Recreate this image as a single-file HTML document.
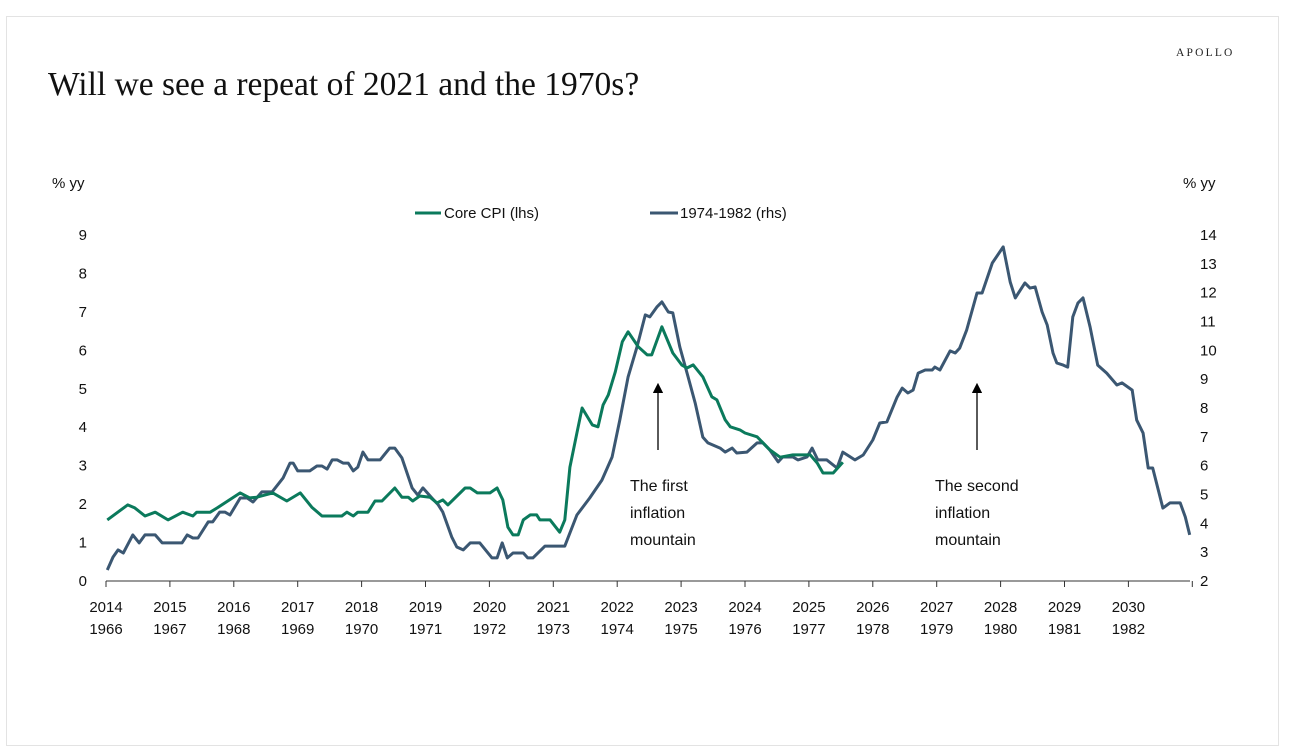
<!DOCTYPE html>
<html><head><meta charset="utf-8"><style>
body{margin:0;width:1300px;height:734px;background:#fff;overflow:hidden;font-family:"Liberation Sans",sans-serif;}
#frame{position:absolute;left:6px;top:16px;width:1273px;height:730px;border:1px solid #e3e3e3;box-sizing:border-box;}
#title{position:absolute;left:48px;top:66px;font-family:"Liberation Serif",serif;font-size:33.5px;color:#111;white-space:nowrap;}
#logo{position:absolute;left:1176px;top:47px;font-family:"Liberation Serif",serif;font-size:11.5px;letter-spacing:2.2px;color:#222;}
svg{position:absolute;left:0;top:0;}
text{font-family:"Liberation Sans",sans-serif;font-size:15px;fill:#111;}
</style></head><body>
<div id="frame"></div>
<div id="title">Will we see a repeat of 2021 and the 1970s?</div>
<div id="logo">APOLLO</div>
<svg id="chart" width="1300" height="734"></svg>
<script>
const coreDates=[2014.02,2014.34,2014.45,2014.61,2014.77,2014.97,2015.20,2015.36,2015.42,2015.63,2015.74,2016.10,2016.25,2016.36,2016.61,2016.83,2017.04,2017.22,2017.38,2017.69,2017.77,2017.87,2017.94,2018.10,2018.21,2018.32,2018.52,2018.63,2018.73,2018.80,2018.91,2019.07,2019.18,2019.27,2019.35,2019.62,2019.70,2019.81,2020.01,2020.12,2020.21,2020.29,2020.37,2020.45,2020.53,2020.64,2020.74,2020.79,2020.95,2021.10,2021.18,2021.26,2021.37,2021.45,2021.61,2021.70,2021.78,2021.86,2021.97,2022.08,2022.17,2022.33,2022.47,2022.54,2022.70,2022.87,2023.01,2023.09,2023.19,2023.34,2023.48,2023.56,2023.69,2023.77,2023.92,2024.00,2024.19,2024.39,2024.55,2024.75,2025.02,2025.13,2025.22,2025.38,2025.53];
const coreValues=[1.59,1.98,1.90,1.69,1.79,1.59,1.79,1.69,1.79,1.79,1.90,2.29,2.16,2.18,2.29,2.08,2.29,1.92,1.69,1.69,1.79,1.69,1.79,1.79,2.08,2.08,2.42,2.18,2.18,2.08,2.21,2.18,2.03,2.11,1.98,2.42,2.42,2.29,2.29,2.42,2.11,1.40,1.20,1.20,1.59,1.72,1.72,1.59,1.59,1.27,1.59,2.96,3.85,4.50,4.06,4.01,4.58,4.84,5.44,6.22,6.48,6.09,5.88,5.88,6.61,5.93,5.62,5.54,5.62,5.31,4.79,4.71,4.19,4.01,3.93,3.85,3.75,3.41,3.22,3.28,3.28,3.07,2.81,2.81,3.09];
const histDates=[2014.02,2014.11,2014.19,2014.27,2014.42,2014.52,2014.61,2014.77,2014.88,2015.19,2015.27,2015.36,2015.44,2015.60,2015.67,2015.78,2015.86,2015.94,2016.10,2016.21,2016.30,2016.44,2016.60,2016.77,2016.88,2016.93,2017.00,2017.19,2017.30,2017.38,2017.46,2017.54,2017.62,2017.71,2017.79,2017.87,2017.94,2018.02,2018.10,2018.29,2018.44,2018.52,2018.63,2018.79,2018.88,2018.96,2019.10,2019.20,2019.27,2019.41,2019.49,2019.59,2019.70,2019.85,2020.04,2020.12,2020.20,2020.28,2020.37,2020.53,2020.60,2020.68,2020.87,2021.18,2021.37,2021.57,2021.76,2021.92,2022.04,2022.17,2022.31,2022.44,2022.51,2022.62,2022.70,2022.80,2022.87,2022.98,2023.11,2023.22,2023.34,2023.42,2023.61,2023.69,2023.80,2023.87,2024.03,2024.19,2024.28,2024.39,2024.52,2024.59,2024.75,2024.83,2024.97,2025.05,2025.14,2025.28,2025.44,2025.53,2025.72,2025.85,2026.00,2026.11,2026.22,2026.38,2026.46,2026.55,2026.63,2026.71,2026.82,2026.93,2026.97,2027.05,2027.21,2027.29,2027.36,2027.47,2027.63,2027.71,2027.87,2028.04,2028.15,2028.23,2028.38,2028.46,2028.54,2028.65,2028.73,2028.82,2028.88,2028.98,2029.05,2029.13,2029.21,2029.29,2029.40,2029.52,2029.66,2029.82,2029.90,2030.06,2030.13,2030.23,2030.31,2030.38,2030.54,2030.65,2030.81,2030.89,2030.96];
const histValues=[2.38,2.83,3.08,2.97,3.60,3.32,3.60,3.60,3.32,3.32,3.60,3.49,3.49,4.05,4.05,4.39,4.39,4.29,4.88,4.88,4.74,5.09,5.09,5.57,6.09,6.09,5.82,5.82,5.99,5.99,5.88,6.20,6.20,6.09,6.09,5.82,5.95,6.47,6.20,6.20,6.61,6.61,6.27,5.23,4.98,5.23,4.88,4.64,4.39,3.53,3.18,3.08,3.32,3.32,2.80,2.80,3.32,2.80,2.97,2.97,2.80,2.80,3.21,3.21,4.29,4.88,5.50,6.30,7.58,9.08,10.12,11.23,11.16,11.50,11.68,11.33,11.30,10.12,9.08,8.17,6.99,6.79,6.61,6.47,6.61,6.44,6.47,6.79,6.79,6.54,6.13,6.30,6.30,6.20,6.30,6.61,6.20,6.20,5.92,6.47,6.20,6.37,6.89,7.48,7.52,8.38,8.69,8.52,8.62,9.21,9.32,9.32,9.42,9.32,9.98,9.91,10.08,10.71,11.99,11.99,13.03,13.59,12.37,11.82,12.34,12.16,12.20,11.33,10.88,9.91,9.56,9.49,9.42,11.16,11.64,11.82,10.81,9.49,9.21,8.80,8.87,8.62,7.58,7.13,5.92,5.92,4.53,4.71,4.71,4.22,3.60];
const yearsTop=["2014","2015","2016","2017","2018","2019","2020","2021","2022","2023","2024","2025","2026","2027","2028","2029","2030"];
const yearsBottom=["1966","1967","1968","1969","1970","1971","1972","1973","1974","1975","1976","1977","1978","1979","1980","1981","1982"];
const leftTicks=[0,1,2,3,4,5,6,7,8,9];
const rightTicks=[2,3,4,5,6,7,8,9,10,11,12,13,14];

const NS="http://www.w3.org/2000/svg";
const svg=document.getElementById('chart');
const x0=106,pxYear=63.9,base=581;
const xs=d=>x0+(d-2014)*pxYear;
const yl=v=>base-v*38.45;
const yr=v=>base-(v-2)*28.83;
function mk(tag,attrs,parent){const e=document.createElementNS(NS,tag);for(const k in attrs)e.setAttribute(k,attrs[k]);(parent||svg).appendChild(e);return e;}

const axis=mk('line',{x1:x0,y1:base,x2:1190,y2:base,stroke:'#333','stroke-width':1});


for(let i=0;i<=17;i++){
  const t=mk('line',{x1:xs(2014+i),y1:base,x2:xs(2014+i),y2:base+6,stroke:'#333','stroke-width':1});
  
  
}
yearsTop.forEach((s,i)=>{
  const t=mk('text',{x:xs(2014+i),y:612,'text-anchor':'middle'});t.textContent=s;
  
  
  const b=mk('text',{x:xs(2014+i),y:634,'text-anchor':'middle'});b.textContent=yearsBottom[i];
  
  
});
leftTicks.forEach(v=>{
  const t=mk('text',{x:87,y:yl(v)+5,'text-anchor':'end'});t.textContent=v;
  
  
});
rightTicks.forEach(v=>{
  const t=mk('text',{x:1200,y:yr(v)+5,'text-anchor':'start'});t.textContent=v;
  
  
});
const lt=mk('text',{x:52,y:188});lt.textContent='% yy';


const rt=mk('text',{x:1183,y:188});rt.textContent='% yy';



const lg1=mk('line',{x1:415,y1:213,x2:441,y2:213,stroke:'#0b7a5c','stroke-width':3});


const lg1t=mk('text',{x:444,y:218});lg1t.textContent='Core CPI (lhs)';


const lg2=mk('line',{x1:650,y1:213,x2:678,y2:213,stroke:'#3b5772','stroke-width':3});


const lg2t=mk('text',{x:680,y:218});lg2t.textContent='1974-1982 (rhs)';



const pHist=histDates.map((d,i)=>xs(d).toFixed(1)+','+yr(histValues[i]).toFixed(1)).join(' ');
const l2=mk('polyline',{points:pHist,fill:'none',stroke:'#3b5772','stroke-width':3,'stroke-linejoin':'round'});


const pCore=coreDates.map((d,i)=>xs(d).toFixed(1)+','+yl(coreValues[i]).toFixed(1)).join(' ');
const l1=mk('polyline',{points:pCore,fill:'none',stroke:'#0b7a5c','stroke-width':3,'stroke-linejoin':'round'});



mk('defs',{}).innerHTML='<marker id="ah" markerWidth="8" markerHeight="8" refX="4" refY="4" orient="auto"><path d="M0,0 L8,4 L0,8 z" fill="#000"/></marker>';
function annot(x,lines,tx,name){
  const a=mk('line',{x1:x,y1:450,x2:x,y2:388,stroke:'#000','stroke-width':1.3,'marker-end':'url(#ah)'});
  
  
  lines.forEach((s,i)=>{
    const t=mk('text',{x:tx,y:491+i*27,style:'font-size:16px'});t.textContent=s;
    
    
  });
}
annot(658,['The first','inflation','mountain'],630,'first-mountain');
annot(977,['The second','inflation','mountain'],935,'second-mountain');
</script>
</body></html>
